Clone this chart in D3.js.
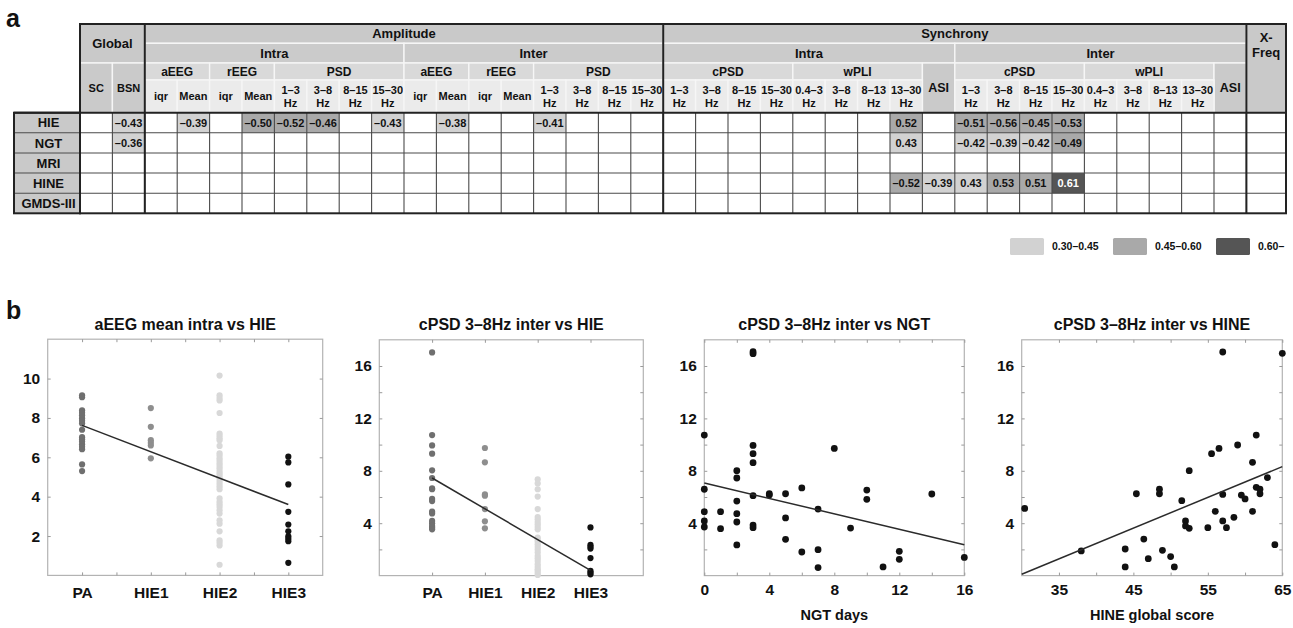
<!DOCTYPE html>
<html>
<head>
<meta charset="utf-8">
<script src="https://cdn.jsdelivr.net/npm/d3@7"></script>
<style>
  body { margin: 0; background: #fff; }
  svg text { font-family: "Liberation Sans", Arial, Helvetica, sans-serif; font-weight: bold; fill: #111; }
</style>
</head>
<body>
<svg id="fig" width="1293" height="628"></svg>
<script>
// ================= Panel a: correlation table =================
const outcomeRows = ["HIE", "NGT", "MRI", "HINE", "GMDS-III"];

const domainHeaders = [["Global", 0, 2], ["Amplitude", 2, 18], ["Synchrony", 18, 36], ["X-\nFreq", 36, 37]];
const scopeHeaders = [["Intra", 2, 10], ["Inter", 10, 18], ["Intra", 18, 27], ["Inter", 27, 36]];
const measureHeaders = [
  ["SC", 0, 1], ["BSN", 1, 2],
  ["aEEG", 2, 4], ["rEEG", 4, 6], ["PSD", 6, 10],
  ["aEEG", 10, 12], ["rEEG", 12, 14], ["PSD", 14, 18],
  ["cPSD", 18, 22], ["wPLI", 22, 26], ["ASI", 26, 27],
  ["cPSD", 27, 31], ["wPLI", 31, 35], ["ASI", 35, 36]
];
const amplitudeBands = ["iqr", "Mean", "iqr", "Mean", "1–3\nHz", "3–8\nHz", "8–15\nHz", "15–30\nHz"];
const synchronyBands = ["1–3\nHz", "3–8\nHz", "8–15\nHz", "15–30\nHz", "0.4–3\nHz", "3–8\nHz", "8–13\nHz", "13–30\nHz"];

// [feature column, correlation coefficient]
const hieCorr  = [[1, -0.43], [3, -0.39], [5, -0.50], [6, -0.52], [7, -0.46], [9, -0.43], [11, -0.38], [14, -0.41],
                  [25, 0.52], [27, -0.51], [28, -0.56], [29, -0.45], [30, -0.53]];
const ngtCorr  = [[1, -0.36], [25, 0.43], [27, -0.42], [28, -0.39], [29, -0.42], [30, -0.49]];
const mriCorr  = [];
const hineCorr = [[25, -0.52], [26, -0.39], [27, 0.43], [28, 0.53], [29, 0.51], [30, 0.61]];
const gmdsCorr = [];

const legendLabels = ["0.30–0.45", "0.45–0.60", "0.60–"];
const legendThresholds = [0.30, 0.45, 0.60];

// ================= Panel b: scatter plots =================
const hieGroups = ["PA", "HIE1", "HIE2", "HIE3"];

const aeegPA   = [9.15, 9.05, 8.38, 8.26, 8.13, 7.99, 7.86, 7.72, 7.40, 7.02, 6.92, 6.80, 6.66, 6.53, 6.41, 5.64, 5.30];
const aeegHIE1 = [8.50, 7.55, 6.87, 6.73, 6.60, 5.95];
const aeegHIE2 = [10.15, 9.15, 9.01, 8.89, 8.25, 7.21, 7.09, 6.97, 6.87, 6.58, 6.20, 6.09, 5.95, 5.83, 5.69, 5.56, 5.44,
                  5.30, 5.18, 5.06, 4.93, 4.79, 4.66, 4.52, 4.38, 3.91, 3.74, 3.62, 3.48, 3.31, 3.14, 2.80, 2.63, 2.24,
                  1.78, 1.66, 1.52, 0.54];
const aeegHIE3 = [6.03, 5.74, 4.62, 3.23, 2.58, 2.24, 1.98, 1.86, 1.74, 0.64];
const aeegFit  = [[1, 7.62], [4, 3.60]];

const cpsdPA   = [17.04, 10.73, 9.94, 9.31, 8.04, 7.45, 6.66, 6.59, 5.85, 5.69, 4.88, 4.75, 4.17, 3.99, 3.79, 3.66, 3.53];
const cpsdHIE1 = [9.74, 8.65, 6.20, 6.10, 5.08, 4.14, 3.61];
const cpsdHIE2 = [7.35, 7.04, 6.59, 6.03, 5.08, 4.47, 4.30, 4.09, 3.91, 3.71, 3.53, 2.90, 2.74, 2.59, 2.39, 2.19, 1.98,
                  1.76, 1.50, 1.32, 1.12, 0.87, 0.66, 0.48, 0.36, 0.20, 0.05];
const cpsdHIE3 = [3.68, 2.34, 2.21, 2.06, 1.34, 0.36, 0.23, 0.10];
const cpsdHieFit = [[1, 7.45], [4, 0.40]];

const ngtDays = [0, 0, 0, 0, 0, 1, 1, 2, 2, 2, 2, 2, 2, 3, 3, 3, 3, 3, 3, 3, 3, 4, 4, 5, 5, 5, 6, 6, 7, 7, 7, 8, 9, 10, 10,
                 11, 12, 12, 14, 16];
const ngtCpsd = [10.73, 6.59, 4.88, 4.17, 3.71, 4.88, 3.58, 8.01, 7.45, 5.69, 4.73, 4.09, 2.34, 17.09, 16.94, 9.94, 9.31,
                 8.62, 6.10, 3.86, 3.66, 6.25, 6.15, 6.25, 4.40, 2.77, 6.69, 1.80, 5.08, 1.98, 0.61, 9.71, 3.63, 6.53,
                 5.82, 0.66, 1.85, 1.24, 6.23, 1.39];
const ngtFit = [[0, 7.07], [16, 2.36]];

const hineScore = [30.4, 38.0, 43.9, 43.9, 45.4, 46.4, 47.0, 48.5, 48.5, 48.9, 50.0, 50.5, 51.5, 52.0, 52.0, 52.5, 52.5,
                   55.0, 55.5, 56.0, 56.5, 57.0, 57.0, 57.0, 57.5, 58.5, 59.0, 59.5, 60.0, 61.0, 61.0, 61.5, 61.5, 62.0,
                   62.0, 63.0, 64.0, 65.0];
const hineCpsd = [5.13, 1.88, 2.03, 0.66, 6.25, 2.79, 1.29, 6.59, 6.25, 1.93, 1.45, 0.66, 5.72, 4.17, 3.79, 3.61, 8.01,
                  3.66, 9.31, 4.91, 9.71, 17.07, 6.20, 4.17, 3.66, 4.45, 9.97, 6.15, 5.85, 8.65, 4.91, 10.73, 6.74, 6.59,
                  6.25, 7.48, 2.36, 16.97];
const hineFit = [[30, 0.10], [65, 8.32]];

// ---------------------------------------------------------------
const svg = d3.select("#fig");

// panel letters
svg.append("text").attr("x", 6).attr("y", 27).attr("font-size", 25).text("a");
svg.append("text").attr("x", 6).attr("y", 319).attr("font-size", 25).text("b");

// ---------- table ----------
const tableLeft = 80, tableRight = 1286, labelLeft = 14;
const levelEdges = [24, 43.3, 63, 80, 112.7];
const bodyBottom = 213.3;
const col = d3.scaleLinear().domain([0, 36]).range([tableLeft, 1246.4]);
const colEdge = i => (i <= 36 ? col(i) : tableRight);
const rowScale = d3.scaleBand().domain(outcomeRows).range([levelEdges[4], bodyBottom]);

const shade = d3.scaleThreshold().domain(legendThresholds).range(["#ffffff", "#d2d2d2", "#a9a9a9", "#555555"]);

const headerCells = [];
domainHeaders.forEach(([label, c0, c1]) => {
  const l1 = label === "Global" ? 2 : (c1 === 37 ? 4 : 1);
  headerCells.push({ label, c0, c1, l0: 0, l1, size: 13, fill: "#c9c9c9", top: c1 === 37 });
});
scopeHeaders.forEach(([label, c0, c1]) => headerCells.push({ label, c0, c1, l0: 1, l1: 2, size: 13, fill: "#cbcbcb" }));
measureHeaders.forEach(([label, c0, c1]) => {
  const spans = (label === "SC" || label === "BSN" || label === "ASI");
  headerCells.push({ label, c0, c1, l0: 2, l1: spans ? 4 : 3, size: label === "ASI" ? 12.5 : (spans ? 11 : 12),
                     fill: spans ? "#cacaca" : "#d9d9d9" });
});
[[amplitudeBands, 2], [amplitudeBands, 10], [synchronyBands.slice(0, 4), 18], [synchronyBands.slice(4), 22],
 [synchronyBands.slice(0, 4), 27], [synchronyBands.slice(4), 31]].forEach(([labels, start]) => {
  labels.forEach((label, i) => headerCells.push({ label, c0: start + i, c1: start + i + 1, l0: 3, l1: 4, size: 11, fill: "#ebebeb" }));
});

const table = svg.append("g");
const hdr = table.selectAll("g.hdr").data(headerCells).join("g").attr("class", "hdr");
hdr.append("rect")
  .attr("x", d => colEdge(d.c0)).attr("y", d => levelEdges[d.l0])
  .attr("width", d => colEdge(d.c1) - colEdge(d.c0)).attr("height", d => levelEdges[d.l1] - levelEdges[d.l0])
  .attr("fill", d => d.fill).attr("stroke", "#f6f6f6").attr("stroke-width", 1.4);
hdr.each(function (d) {
  const lines = d.label.split("\n");
  const cx = (colEdge(d.c0) + colEdge(d.c1)) / 2;
  const lh = d.size * 1.15;
  let cy = (levelEdges[d.l0] + levelEdges[d.l1]) / 2 - (lines.length - 1) * lh / 2;
  if (d.top) cy = levelEdges[d.l0] + 13;
  const t = d3.select(this).append("text").attr("text-anchor", "middle").attr("font-size", d.size);
  lines.forEach((ln, i) => t.append("tspan").attr("x", cx).attr("y", cy + i * lh).attr("dy", "0.36em").text(ln));
});

// body cells
const corrByRow = { "HIE": hieCorr, "NGT": ngtCorr, "MRI": mriCorr, "HINE": hineCorr, "GMDS-III": gmdsCorr };
const bodyCells = [];
outcomeRows.forEach(r => corrByRow[r].forEach(([c, v]) => bodyCells.push({ row: r, c, v })));

table.append("g").selectAll("rect").data(bodyCells).join("rect")
  .attr("x", d => col(d.c)).attr("y", d => rowScale(d.row))
  .attr("width", col(1) - col(0)).attr("height", rowScale.bandwidth())
  .attr("fill", d => shade(Math.abs(d.v)));
table.append("g").selectAll("text").data(bodyCells).join("text")
  .attr("x", d => col(d.c + 0.5)).attr("y", d => rowScale(d.row) + rowScale.bandwidth() / 2)
  .attr("dy", "0.36em").attr("text-anchor", "middle").attr("font-size", 11)
  .style("fill", d => Math.abs(d.v) >= 0.6 ? "#fff" : "#111")
  .text(d => (d.v < 0 ? "–" : "") + Math.abs(d.v).toFixed(2));

// row labels
table.append("g").selectAll("rect").data(outcomeRows).join("rect")
  .attr("x", labelLeft).attr("y", d => rowScale(d)).attr("width", tableLeft - labelLeft).attr("height", rowScale.bandwidth())
  .attr("fill", "#c9c9c9");
table.append("g").selectAll("text").data(outcomeRows).join("text")
  .attr("x", (labelLeft + tableLeft) / 2 + 1.5).attr("y", d => rowScale(d) + rowScale.bandwidth() / 2)
  .attr("dy", "0.36em").attr("text-anchor", "middle").attr("font-size", 13).text(d => d);

// thin grid in body
const grid = table.append("g").attr("stroke", "#4a4a4a").attr("stroke-width", 1.1);
d3.range(1, 37).forEach(i => grid.append("line").attr("x1", col(i)).attr("x2", col(i)).attr("y1", levelEdges[4]).attr("y2", bodyBottom));
outcomeRows.slice(1).forEach(r => grid.append("line").attr("x1", labelLeft).attr("x2", tableRight)
  .attr("y1", rowScale(r)).attr("y2", rowScale(r)));

// heavy frame lines
const heavy = table.append("g").attr("stroke", "#222").attr("stroke-width", 2).attr("fill", "none");
heavy.append("rect").attr("x", tableLeft).attr("y", levelEdges[0]).attr("width", tableRight - tableLeft).attr("height", bodyBottom - levelEdges[0]);
heavy.append("rect").attr("x", labelLeft).attr("y", levelEdges[4]).attr("width", tableLeft - labelLeft).attr("height", bodyBottom - levelEdges[4]);
[2, 18, 36].forEach(i => heavy.append("line").attr("x1", col(i)).attr("x2", col(i)).attr("y1", levelEdges[0]).attr("y2", bodyBottom));
heavy.append("line").attr("x1", labelLeft).attr("x2", tableRight).attr("y1", levelEdges[4]).attr("y2", levelEdges[4]);

// legend
const legendX = d3.scalePoint().domain(legendLabels).range([1010, 1216]);
const lg = svg.append("g").selectAll("g").data(legendLabels).join("g");
lg.append("rect").attr("x", d => legendX(d)).attr("y", 238).attr("width", 34).attr("height", 17).attr("rx", 1.5)
  .attr("fill", (d, i) => shade(legendThresholds[i] + 0.01));
lg.append("text").attr("x", d => legendX(d) + 42).attr("y", 246.5).attr("dy", "0.36em").attr("font-size", 10.5).text(d => d);

// ---------- scatter panels ----------
function drawPanel(cfg) {
  const g = svg.append("g");
  const { box } = cfg;
  const x = d3.scaleLinear().domain(cfg.xDomain).range([box.l, box.r]);
  const y = d3.scaleLinear().domain(cfg.yDomain).range([box.b, box.t]);

  g.append("rect").attr("x", box.l).attr("y", box.t).attr("width", box.r - box.l).attr("height", box.b - box.t)
    .attr("fill", "none").attr("stroke", "#b3b3b3").attr("stroke-width", 1.2);

  const style = sel => {
    sel.select(".domain").remove();
    sel.selectAll(".tick line").attr("stroke", "#9a9a9a");
    sel.selectAll(".tick text").attr("font-size", 15.5).attr("font-family", null).style("fill", "#111");
  };
  g.append("g").attr("transform", `translate(0,${box.b})`)
    .call(d3.axisBottom(x).tickValues(cfg.xTicks).tickSize(-3).tickPadding(cfg.xPad).tickFormat(cfg.xFormat)).call(style);
  g.append("g").attr("transform", `translate(0,${box.t})`)
    .call(d3.axisTop(x).tickValues(cfg.xTicks).tickSize(-3).tickFormat("")).call(style);
  g.append("g").attr("transform", `translate(${box.l},0)`)
    .call(d3.axisLeft(y).tickValues(cfg.yTicks).tickSize(-3).tickPadding(7.5).tickFormat(cfg.yFormat)).call(style);
  g.append("g").attr("transform", `translate(${box.r},0)`)
    .call(d3.axisRight(y).tickValues(cfg.yTicks).tickSize(-3).tickFormat("")).call(style);

  g.selectAll("circle.pt").data(cfg.points).join("circle").attr("class", "pt")
    .attr("cx", d => x(d.x)).attr("cy", d => y(d.y)).attr("r", cfg.r).attr("fill", d => d.color);

  g.append("path").datum(cfg.fit)
    .attr("d", d3.line().x(d => x(d[0])).y(d => y(d[1])))
    .attr("stroke", "#2b2b2b").attr("stroke-width", 1.5).attr("fill", "none");

  g.append("text").attr("x", (box.l + box.r) / 2).attr("y", 329.5).attr("text-anchor", "middle")
    .attr("font-size", 16).text(cfg.title);
  if (cfg.xTitle) {
    g.append("text").attr("x", (box.l + box.r) / 2).attr("y", 620).attr("text-anchor", "middle")
      .attr("font-size", 14.5).text(cfg.xTitle);
  }
}

const groupColors = ["#6f6f6f", "#8e8e8e", "#d8d8d8", "#111111"];
const groupPoints = lists => lists.flatMap((vals, i) => vals.map(v => ({ x: i + 1, y: v, color: groupColors[i] })));
const pairPoints = (xs, ys) => xs.map((v, i) => ({ x: v, y: ys[i], color: "#111" }));
const cpsdTicks = d3.range(2, 17, 2);
const cpsdFormat = d => (d % 4 === 0 ? d : "");

drawPanel({
  title: "aEEG mean intra vs HIE",
  box: { l: 47.7, r: 322.7, t: 339.2, b: 575.4 },
  xDomain: [0.5, 4.5], xTicks: d3.range(1, 4.01, 0.5), xPad: 11.6,
  xFormat: d => (Number.isInteger(d) ? hieGroups[d - 1] : ""),
  yDomain: [0, 12], yTicks: [2, 4, 6, 8, 10], yFormat: d => d,
  points: groupPoints([aeegPA, aeegHIE1, aeegHIE2, aeegHIE3]), r: 3.1, fit: aeegFit
});
drawPanel({
  title: "cPSD 3–8Hz inter vs HIE",
  box: { l: 379.3, r: 643.3, t: 339.8, b: 575.6 },
  xDomain: [0, 5], xTicks: [1, 2, 3, 4], xPad: 11.6,
  xFormat: d => hieGroups[d - 1],
  yDomain: [0, 18], yTicks: cpsdTicks, yFormat: cpsdFormat,
  points: groupPoints([cpsdPA, cpsdHIE1, cpsdHIE2, cpsdHIE3]), r: 3.1, fit: cpsdHieFit
});
drawPanel({
  title: "cPSD 3–8Hz inter vs NGT", xTitle: "NGT days",
  box: { l: 704.3, r: 964.3, t: 339.8, b: 575.6 },
  xDomain: [0, 16], xTicks: d3.range(0, 17, 2), xPad: 8.4,
  xFormat: d => (d % 4 === 0 ? d : ""),
  yDomain: [0, 18], yTicks: cpsdTicks, yFormat: cpsdFormat,
  points: pairPoints(ngtDays, ngtCpsd), r: 3.4, fit: ngtFit
});
drawPanel({
  title: "cPSD 3–8Hz inter vs HINE", xTitle: "HINE global score",
  box: { l: 1021.7, r: 1282.3, t: 339.8, b: 575.6 },
  xDomain: [30, 65], xTicks: d3.range(35, 66, 5), xPad: 8.4,
  xFormat: d => (d % 10 === 5 ? d : ""),
  yDomain: [0, 18], yTicks: cpsdTicks, yFormat: cpsdFormat,
  points: pairPoints(hineScore, hineCpsd), r: 3.4, fit: hineFit
});
</script>
</body>
</html>
